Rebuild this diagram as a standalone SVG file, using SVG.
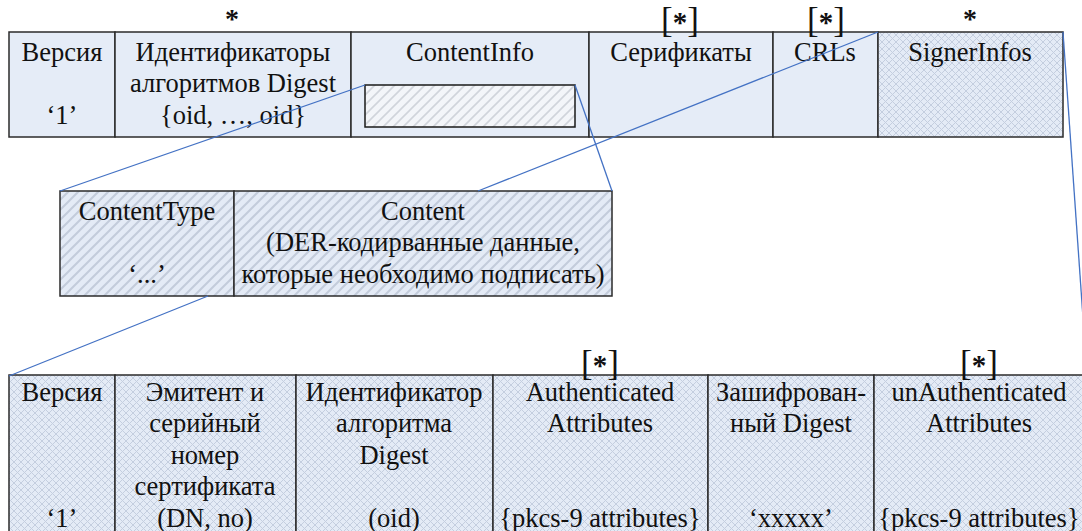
<svg xmlns="http://www.w3.org/2000/svg" width="1082" height="531" viewBox="0 0 1082 531">
  <style>
    text { font-family: 'Liberation Serif', 'DejaVu Serif', serif; font-size: 26.5px; fill: #111; text-anchor: middle; }
    .cell { fill: #E5ECF7; stroke: #2b2b2b; stroke-width: 1.5; }
    .cross { fill: url(#crosshatch); stroke: #2b2b2b; stroke-width: 1.5; }
    .diag { fill: url(#diaghatch); stroke: #2b2b2b; stroke-width: 1.5; }
    .inner { fill: url(#innerhatch); stroke: #1a1a1a; stroke-width: 1.5; }
    .star { font-size: 28px; font-weight: bold; }
    .opt { font-size: 35px; }
    .opt tspan { font-weight: bold; font-size: 29px; }
    .link { stroke: #4472C4; stroke-width: 1.3; fill: none; }
  </style>
  <defs>
    <pattern id="crosshatch" patternUnits="userSpaceOnUse" width="7" height="7">
      <rect width="7" height="7" fill="#E4EBF6"/>
      <path d="M0 0 L7 7 M7 0 L0 7" stroke="#C4CEDF" stroke-width="1"/>
    </pattern>
    <pattern id="diaghatch" patternUnits="userSpaceOnUse" width="10" height="10">
      <rect width="10" height="10" fill="#E4EBF6"/>
      <path d="M-2 12 L12 -2 M-7 7 L7 -7 M3 17 L17 3" stroke="#C3CCDB" stroke-width="2"/>
    </pattern>
    <pattern id="innerhatch" patternUnits="userSpaceOnUse" width="10" height="10">
      <rect width="10" height="10" fill="#F3F5F9"/>
      <path d="M-2 12 L12 -2 M-7 7 L7 -7 M3 17 L17 3" stroke="#D0D4DB" stroke-width="1.6"/>
    </pattern>
  </defs>

  <!-- SignedData -->
  <g id="signeddata">
    <g id="sd-version">
      <rect class="cell" x="9" y="32" width="106" height="105"/>
      <text x="62" y="61">Версия</text>
      <text x="62" y="124">‘1’</text>
    </g>
    <g id="sd-digestalgs">
      <rect class="cell" x="115" y="32" width="236" height="105"/>
      <text x="233" y="61">Идентификаторы</text>
      <text x="233" y="92">алгоритмов Digest</text>
      <text x="233" y="124">{oid, …, oid}</text>
      <text class="star" x="232" y="28">*</text>
    </g>
    <g id="sd-contentinfo">
      <rect class="cell" x="351" y="32" width="238" height="105"/>
      <text x="470" y="61">ContentInfo</text>
      <rect class="inner" x="365" y="85" width="210" height="42"/>
    </g>
    <g id="sd-certificates">
      <rect class="cell" x="589" y="32" width="184" height="105"/>
      <text x="681" y="61">Серификаты</text>
      <text class="opt" x="680" y="32">[<tspan>*</tspan>]</text>
    </g>
    <g id="sd-crls">
      <rect class="cell" x="773" y="32" width="105" height="105"/>
      <text x="825" y="61">CRLs</text>
      <text class="opt" x="826" y="32">[<tspan>*</tspan>]</text>
    </g>
    <g id="sd-signerinfos">
      <rect class="cross" x="878" y="32" width="185" height="105"/>
      <text x="970" y="61">SignerInfos</text>
      <text class="star" x="970" y="28">*</text>
    </g>
  </g>

  <!-- ContentInfo -->
  <g id="contentinfo">
    <g id="ci-type">
      <rect class="diag" x="60" y="191" width="174" height="105"/>
      <text x="147" y="220">ContentType</text>
      <text x="147" y="283">‘...’</text>
    </g>
    <g id="ci-content">
      <rect class="diag" x="234" y="191" width="378" height="105"/>
      <text x="423" y="220">Content</text>
      <text x="423" y="251">(DER-кодирванные данные,</text>
      <text x="423" y="283">которые необходимо подписать)</text>
    </g>
  </g>

  <!-- SignerInfo -->
  <g id="signerinfo">
    <g id="si-version">
      <rect class="cross" x="9" y="375" width="106" height="170"/>
      <text x="62" y="401">Версия</text>
      <text x="62" y="527">‘1’</text>
    </g>
    <g id="si-issuer">
      <rect class="cross" x="115" y="375" width="181" height="170"/>
      <text x="205" y="401">Эмитент и</text>
      <text x="205" y="432">серийный</text>
      <text x="205" y="464">номер</text>
      <text x="205" y="495">сертификата</text>
      <text x="205" y="527">(DN, no)</text>
    </g>
    <g id="si-digestalg">
      <rect class="cross" x="296" y="375" width="197" height="170"/>
      <text x="394" y="401">Идентификатор</text>
      <text x="394" y="432">алгоритма</text>
      <text x="394" y="464">Digest</text>
      <text x="394" y="527">(oid)</text>
    </g>
    <g id="si-authattrs">
      <rect class="cross" x="493" y="375" width="215" height="170"/>
      <text x="600" y="401">Authenticated</text>
      <text x="600" y="432">Attributes</text>
      <text x="600" y="527">{pkcs-9 attributes}</text>
      <text class="opt" x="600" y="375">[<tspan>*</tspan>]</text>
    </g>
    <g id="si-encdigest">
      <rect class="cross" x="708" y="375" width="166" height="170"/>
      <text x="791" y="401">Зашифрован-</text>
      <text x="791" y="432">ный Digest</text>
      <text x="791" y="527">‘xxxxx’</text>
    </g>
    <g id="si-unauthattrs">
      <rect class="cross" x="874" y="375" width="215" height="170"/>
      <text x="979" y="401">unAuthenticated</text>
      <text x="979" y="432">Attributes</text>
      <text x="979" y="527">{pkcs-9 attributes}</text>
      <text class="opt" x="979" y="375">[<tspan>*</tspan>]</text>
    </g>
  </g>

  <!-- connectors between the nested structures, drawn over the cells -->
  <g id="connectors">
    <line class="link" x1="365" y1="85" x2="60" y2="191"/>
    <line class="link" x1="575" y1="85" x2="612" y2="191"/>
    <line class="link" x1="878" y1="32" x2="478" y2="191"/>
    <line class="link" x1="1063" y1="32" x2="1087" y2="375"/>
    <line class="link" x1="208" y1="296" x2="9" y2="376"/>
  </g>
</svg>
